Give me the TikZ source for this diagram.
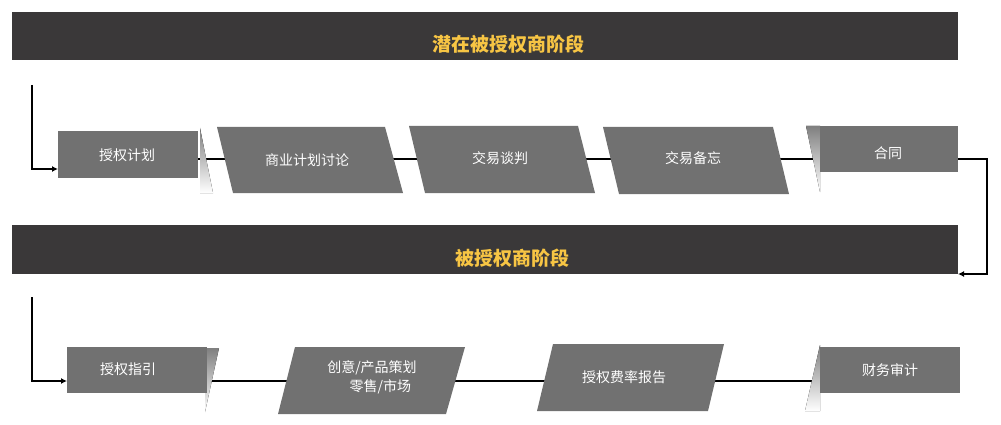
\documentclass[tikz,border=0pt]{standalone}
\usepackage{fontspec}
\setmainfont{Noto Sans CJK SC}
\usetikzlibrary{arrows.meta}
\definecolor{banner}{HTML}{3A3839}
\definecolor{boxgray}{HTML}{717171}
\definecolor{shade}{HTML}{D9D9D9}
\definecolor{title}{HTML}{F7C544}
\tikzset{
  lbl/.style={text=white,font=\fontsize{14pt}{16pt}\selectfont,align=center},
  ttl/.style={text=title,font=\fontsize{19pt}{22pt}\selectfont\bfseries},
  flow/.style={line width=1.6pt,-{Latex[length=6pt,width=6pt]}},
  link/.style={line width=1.5pt}
}
\begin{document}
\begin{tikzpicture}[x=1pt,y=-1pt]
\useasboundingbox (0,0) rectangle (1001,425);
% banners
\fill[banner] (12,12) rectangle (958,60);
\node[ttl] (t1) at (508,44) {潜在被授权商阶段};
\fill[banner] (12,225) rectangle (958,274);
\node[ttl] (t2) at (512,258) {被授权商阶段};

% row 1 links
\coordinate (a1) at (198,159);
\coordinate (a5) at (820,159);
\draw[link] (a1) -- (a5);
% row 1 shapes
\fill[shade] (200,128) -- (213,193) -- (200,193) -- cycle;
\fill[boxgray] (58,131) rectangle (198,178);
\fill[boxgray] (217,127) -- (385,127) -- (403,193) -- (233,193) -- cycle;
\fill[boxgray] (409,126) -- (578,126) -- (595,193) -- (425,193) -- cycle;
\fill[boxgray] (603,127) -- (773,127) -- (789,194) -- (619,194) -- cycle;
\fill[shade] (806,126) -- (820,126) -- (820,192) -- cycle;
\fill[boxgray] (820,126) rectangle (958,172);
\node[lbl] (n1) at (127,155) {授权计划};
\node[lbl] (n2) at (307,160) {商业计划讨论};
\node[lbl] (n3) at (500,158) {交易谈判};
\node[lbl] (n4) at (693,158) {交易备忘};
\node[lbl] (n5) at (888,153) {合同};

% row 2 links
\coordinate (b1) at (207,381);
\coordinate (b4) at (820,381);
\draw[link] (b1) -- (b4);
% row 2 shapes
\fill[shade] (207,348) -- (219,348) -- (205,412) -- cycle;
\fill[boxgray] (67,347) rectangle (207,393);
\fill[boxgray] (295,347) -- (465,347) -- (446,414) -- (278,414) -- cycle;
\fill[boxgray] (553,344) -- (724,344) -- (708,411) -- (537,411) -- cycle;
\fill[shade] (820,345) -- (820,411) -- (805,411) -- cycle;
\fill[boxgray] (820,347) rectangle (960,393);
\node[lbl] (m1) at (128,369) {授权指引};
\node[lbl,font=\fontsize{14pt}{19pt}\selectfont] (m2) at (372,377) {创意/产品策划\\\hspace*{1.2em}零售/市场};
\node[lbl] (m3) at (624,377) {授权费率报告};
\node[lbl] (m4) at (890,370) {财务审计};

% flow arrows
\coordinate (s1) at (32,85);
\coordinate (s2) at (32,297);
\coordinate (r1) at (958,159);
\coordinate (r2) at (958,274);
\draw[flow] (s1) |- (58,169);
\draw[flow] (s2) |- (67,381);
\draw[flow] (r1) -- (987,159) |- (r2);
\end{tikzpicture}
\end{document}
